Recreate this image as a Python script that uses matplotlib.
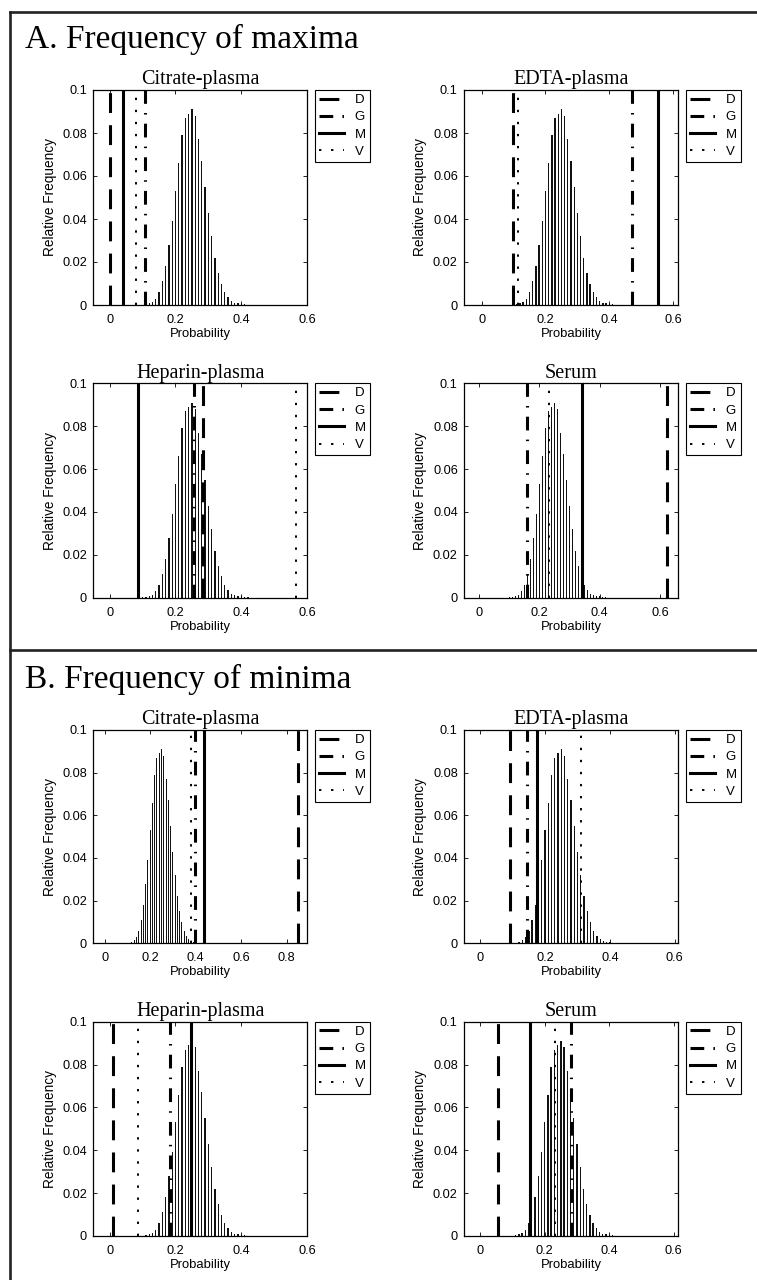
import matplotlib.pyplot as plt
from matplotlib.lines import Line2D

W, H = 757, 1280

methods = ["D", "G", "M", "V"]
panels = ["Citrate-plasma", "EDTA-plasma", "Heparin-plasma", "Serum"]

# reference distribution: bin centres and relative frequency
prob_bins = [0.10, 0.11, 0.12, 0.13, 0.14, 0.15, 0.16, 0.17, 0.18, 0.19,
             0.20, 0.21, 0.22, 0.23, 0.24, 0.25, 0.26, 0.27, 0.28, 0.29,
             0.30, 0.31, 0.32, 0.33, 0.34, 0.35, 0.36, 0.37, 0.38, 0.39,
             0.40, 0.41, 0.42]
rel_freq = [0.0002, 0.0003, 0.0008, 0.0014, 0.003, 0.006, 0.011, 0.018, 0.028, 0.039,
            0.053, 0.066, 0.079, 0.087, 0.089, 0.091, 0.088, 0.077, 0.067, 0.055,
            0.043, 0.032, 0.022, 0.015, 0.010, 0.006, 0.0036, 0.0019, 0.0011, 0.0008,
            0.0006, 0.0003, 0.0002]

# observed probabilities, order D, G, M, V
maxima_citrate = [0.000, 0.107, 0.040, 0.081]
maxima_edta = [0.099, 0.471, 0.552, 0.115]
maxima_heparin = [0.283, 0.255, 0.085, 0.568]
maxima_serum = [0.625, 0.158, 0.341, 0.233]

minima_citrate = [0.850, 0.398, 0.439, 0.379]
minima_edta = [0.092, 0.144, 0.175, 0.311]
minima_heparin = [0.011, 0.184, 0.247, 0.087]
minima_serum = [0.054, 0.283, 0.153, 0.231]

STYLES = {
    "D": dict(lw=2.2, dashes=(6.5, 4)),
    "G": dict(lw=2.2, dashes=(4.5, 3, 0.5, 3)),
    "M": dict(lw=2.2, ls="-"),
    "V": dict(lw=1.4, dashes=(1.2, 5)),
}

SERIF = "Liberation Serif"
SANS = "Liberation Sans"
plt.rcParams["font.family"] = SANS


def px_rect(x0, x1, y0, y1):
    return [x0 / W, 1 - y1 / H, (x1 - x0) / W, (y1 - y0) / H]


def fmt(v):
    return "0" if abs(v) < 1e-9 else f"{v:g}"


def draw_panel(fig, rect, title, obs, xlim, xticks):
    ax = fig.add_axes(rect)
    ax.bar(prob_bins, rel_freq, width=0.0042, color="#111111", linewidth=0)
    handles = []
    for m, x in zip(methods, obs):
        ln = ax.axvline(x, color="black", **STYLES[m])
        ln.set_dash_capstyle("butt")
        handles.append(Line2D([], [], color="black", **STYLES[m]))
    ax.set_xlim(*xlim)
    ax.set_ylim(0, 0.1)
    ax.set_xticks(xticks)
    ax.set_xticklabels([fmt(t) for t in xticks])
    yt = [0, 0.02, 0.04, 0.06, 0.08, 0.1]
    ax.set_yticks(yt)
    ax.set_yticklabels([fmt(t) for t in yt])
    ax.tick_params(direction="in", length=3, width=0.6, top=True, right=True,
                   labelsize=9.2, pad=4.5)
    ax.tick_params(axis="x", pad=6.5)
    for s in ax.spines.values():
        s.set_linewidth(0.9)
    ax.set_title(title, fontfamily=SERIF, fontsize=14.5, pad=4)
    ax.set_xlabel("Probability", fontsize=9.4, labelpad=1.5)
    ax.set_ylabel("Relative Frequency", fontsize=9.8, labelpad=4)
    leg = ax.legend(handles, methods, loc="upper left",
                    bbox_to_anchor=(1 + 8 / 214, 1.0), borderaxespad=0,
                    fontsize=9.5, handlelength=1.9, handletextpad=0.8,
                    labelspacing=0.38, borderpad=0.3, fancybox=False,
                    framealpha=1, edgecolor="black")
    leg.get_frame().set_linewidth(0.8)
    return ax


fig = plt.figure(figsize=(W / 100, H / 100), dpi=100)

cols = [(93.3, 307.0), (464.0, 678.0)]
rows_a = [(90.0, 305.0), (383.3, 597.7)]
rows_b = [(730.0, 943.3), (1021.7, 1236.0)]

ticks6 = [0, 0.2, 0.4, 0.6]
ticks8 = [0, 0.2, 0.4, 0.6, 0.8]

maxima = [maxima_citrate, maxima_edta, maxima_heparin, maxima_serum]
minima = [minima_citrate, minima_edta, minima_heparin, minima_serum]
xlims_a = [(-0.05, 0.60), (-0.055, 0.615), (-0.05, 0.60), (-0.05, 0.66)]
xlims_b = [(-0.05, 0.89), (-0.05, 0.61), (-0.05, 0.60), (-0.05, 0.613)]

for i in range(4):
    c = cols[i % 2]
    r = rows_a[i // 2]
    draw_panel(fig, px_rect(c[0], c[1], r[0], r[1]), panels[i], maxima[i],
               xlims_a[i], ticks6)
    r = rows_b[i // 2]
    draw_panel(fig, px_rect(c[0], c[1], r[0], r[1]), panels[i], minima[i],
               xlims_b[i], ticks8 if i == 0 else ticks6)

# section headings
fig.text(25 / W, 1 - 48 / H, "A. Frequency of maxima", fontfamily=SERIF,
         fontsize=24, va="baseline", ha="left")
fig.text(25 / W, 1 - 688 / H, "B. Frequency of minima", fontfamily=SERIF,
         fontsize=24, va="baseline", ha="left")

# frames around the two sections
frame_kw = dict(color="#222222", lw=1.9, transform=fig.transFigure, clip_on=False)
fig.add_artist(Line2D([10 / W, 10 / W], [0, 1 - 12 / H], **frame_kw))
fig.add_artist(Line2D([10 / W, 1.0], [1 - 12 / H, 1 - 12 / H], **frame_kw))
fig.add_artist(Line2D([10 / W, 1.0], [1 - 650 / H, 1 - 650 / H], **frame_kw))

fig.savefig("out.png", dpi=100)
